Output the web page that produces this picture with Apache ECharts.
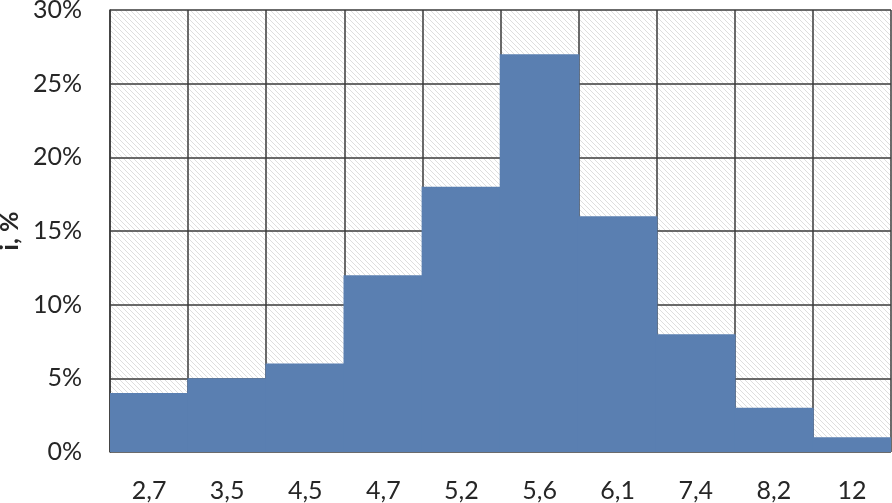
<!DOCTYPE html>
<html>
<head>
<meta charset="utf-8">
<script src="https://cdn.jsdelivr.net/npm/echarts@6/dist/echarts.min.js"></script>
<style>
  html, body { margin: 0; padding: 0; background: #fff; }
  #chart { width: 892px; height: 503px; }
</style>
</head>
<body>
<div id="chart"></div>
<script>
// категории и доли
const categories = ['2,7', '3,5', '4,5', '4,7', '5,2', '5,6', '6,1', '7,4', '8,2', '12'];
const shares = [4, 5, 6, 12, 18, 27, 16, 8, 3, 1];
const yTicks = [0, 5, 10, 15, 20, 25, 30];

// штриховка фона
function hatch() {
  const s = 5;
  const c = document.createElement('canvas');
  c.width = s;
  c.height = s;
  const ctx = c.getContext('2d');
  ctx.fillStyle = '#fff';
  ctx.fillRect(0, 0, s, s);
  ctx.strokeStyle = '#dedede';
  ctx.lineWidth = 1;
  for (let k = -1; k <= 1; k++) {
    ctx.beginPath();
    ctx.moveTo(0, k * s);
    ctx.lineTo(s, s + k * s);
    ctx.stroke();
  }
  return c;
}

const font = 'Lato, "Open Sans", sans-serif';
const chart = echarts.init(document.getElementById('chart'));
chart.setOption({
  animation: false,
  grid: {
    left: 110,
    right: 1,
    top: 10,
    bottom: 51,
    containLabel: false,
    outerBoundsMode: 'none',
    show: true,
    borderWidth: 0,
    backgroundColor: { image: hatch(), repeat: 'repeat' },
  },
  xAxis: {
    type: 'category',
    data: categories,
    axisLine: { show: false },
    axisTick: { show: false },
    axisLabel: { color: '#262626', fontSize: 25, fontFamily: font, margin: 26 },
    splitLine: { show: true, lineStyle: { color: '#3a3a3a', width: 1.5 } },
  },
  yAxis: {
    type: 'value',
    min: yTicks[0],
    max: yTicks[yTicks.length - 1],
    interval: 5,
    name: 'i, %',
    nameLocation: 'middle',
    nameRotate: 90,
    nameGap: 85,
    nameTextStyle: { color: '#262626', fontSize: 25, fontWeight: 'bold', fontFamily: font },
    axisLine: { show: true, lineStyle: { color: '#3a3a3a', width: 1.5 } },
    axisTick: { show: false },
    axisLabel: { color: '#262626', fontSize: 25, fontFamily: font, margin: 28, formatter: '{value}%' },
    splitLine: { show: true, lineStyle: { color: '#3a3a3a', width: 1.5 } },
  },
  series: [
    {
      type: 'bar',
      data: shares,
      z: 5,
      barWidth: '102%',
      barCategoryGap: 0,
      itemStyle: { color: '#5a7fb1' },
    },
  ],
});
</script>
</body>
</html>
